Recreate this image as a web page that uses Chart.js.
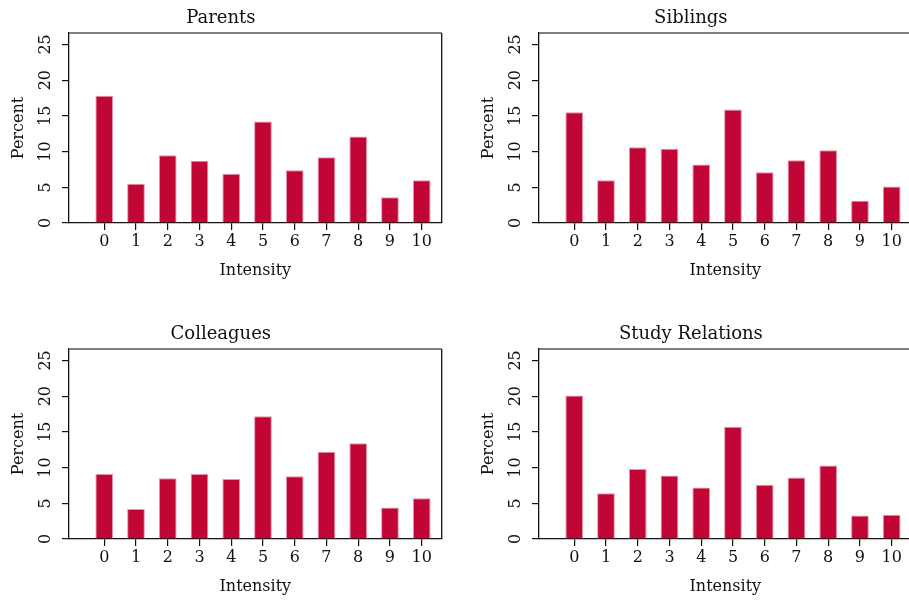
<!DOCTYPE html>
<html>
<head>
<meta charset="utf-8">
<title>Intensity by relation</title>
<script src="https://cdn.jsdelivr.net/npm/chart.js@4.4.1/dist/chart.umd.min.js"></script>
<style>
  html, body { margin: 0; padding: 0; background: #fff; width: 909px; height: 600px; overflow: hidden; }
  .panel { position: absolute; width: 454px; height: 284px; }
</style>
</head>
<body>
<div class="panel" style="left:0px;top:0px"><canvas id="parentsChart"></canvas></div>
<div class="panel" style="left:470px;top:0px"><canvas id="siblingsChart"></canvas></div>
<div class="panel" style="left:0px;top:316px"><canvas id="colleaguesChart"></canvas></div>
<div class="panel" style="left:470px;top:316px"><canvas id="studyChart"></canvas></div>
<script>
// Données
const intensity = [0, 1, 2, 3, 4, 5, 6, 7, 8, 9, 10];
const yTicks = [0, 5, 10, 15, 20, 25];
const parents = [17.8, 5.5, 9.5, 8.7, 6.9, 14.2, 7.4, 9.2, 12.1, 3.6, 6.0];
const siblings = [15.5, 6.0, 10.6, 10.4, 8.2, 15.9, 7.1, 8.8, 10.2, 3.1, 5.1];
const colleagues = [9.1, 4.2, 8.5, 9.1, 8.4, 17.2, 8.8, 12.2, 13.4, 4.4, 5.7];
const studyRelations = [20.1, 6.4, 9.8, 8.9, 7.2, 15.7, 7.6, 8.6, 10.3, 3.3, 3.4];

const fontFamily = '"DejaVu Serif", serif';
const ink = '#111';

// Cadre du haut et de droite autour de la zone de tracé
const frame = {
  id: 'frame',
  afterDraw(chart) {
    const { ctx, chartArea: a } = chart;
    ctx.save();
    ctx.lineWidth = 1.3;
    ctx.strokeStyle = '#555';
    ctx.beginPath();
    ctx.moveTo(a.left, a.top);
    ctx.lineTo(a.right, a.top);
    ctx.stroke();
    ctx.strokeStyle = ink;
    ctx.beginPath();
    ctx.moveTo(a.right, a.top);
    ctx.lineTo(a.right, a.bottom);
    ctx.stroke();
    ctx.restore();
  }
};

function makeChart(canvasId, title, values) {
  const ctx = document.getElementById(canvasId).getContext('2d');
  return new Chart(ctx, {
    type: 'bar',
    data: {
      datasets: [{
        label: title,
        data: intensity.map((x, i) => ({ x: x, y: values[i] })),
        backgroundColor: '#c10534',
        borderColor: '#e892a8',
        borderWidth: 1,
        barPercentage: 0.558,
        categoryPercentage: 1
      }]
    },
    options: {
      responsive: true,
      maintainAspectRatio: false,
      animation: false,
      layout: { padding: { left: 0, right: 12.3, top: 0, bottom: 0 } },
      scales: {
        x: {
          type: 'linear',
          min: -1.11,
          max: 10.63,
          offset: false,
          afterBuildTicks: axis => { axis.ticks = intensity.map(v => ({ value: v })); },
          afterFit: axis => { axis.height = 61; },
          grid: { offset: false, drawOnChartArea: false, tickLength: 7, color: ink, lineWidth: 1.2 },
          border: { display: true, color: ink, width: 1.3 },
          ticks: { color: ink, font: { family: fontFamily, size: 16 }, padding: 2, maxRotation: 0, autoSkip: false },
          title: { display: true, text: 'Intensity', color: ink, font: { family: fontFamily, size: 16 }, padding: { top: 4, bottom: 4 } }
        },
        y: {
          min: 0,
          max: 26.6,
          afterBuildTicks: axis => { axis.ticks = yTicks.map(v => ({ value: v })); },
          afterFit: axis => { axis.width = 69; },
          grid: { drawOnChartArea: false, tickLength: 7, color: ink, lineWidth: 1.2 },
          border: { display: true, color: ink, width: 1.3 },
          ticks: { color: ink, font: { family: fontFamily, size: 16 }, padding: 6, minRotation: 90, maxRotation: 90, crossAlign: 'center', autoSkip: false },
          title: { display: true, text: 'Percent', color: ink, font: { family: fontFamily, size: 16 }, padding: { top: 9, bottom: 0 } }
        }
      },
      plugins: {
        legend: { display: false },
        tooltip: { enabled: false },
        title: {
          display: true,
          text: title,
          color: ink,
          font: { family: fontFamily, size: 18, weight: 'normal' },
          padding: { top: 8, bottom: 3.4 }
        }
      }
    },
    plugins: [frame]
  });
}

makeChart('parentsChart', 'Parents', parents);
makeChart('siblingsChart', 'Siblings', siblings);
makeChart('colleaguesChart', 'Colleagues', colleagues);
makeChart('studyChart', 'Study Relations', studyRelations);
</script>
</body>
</html>
